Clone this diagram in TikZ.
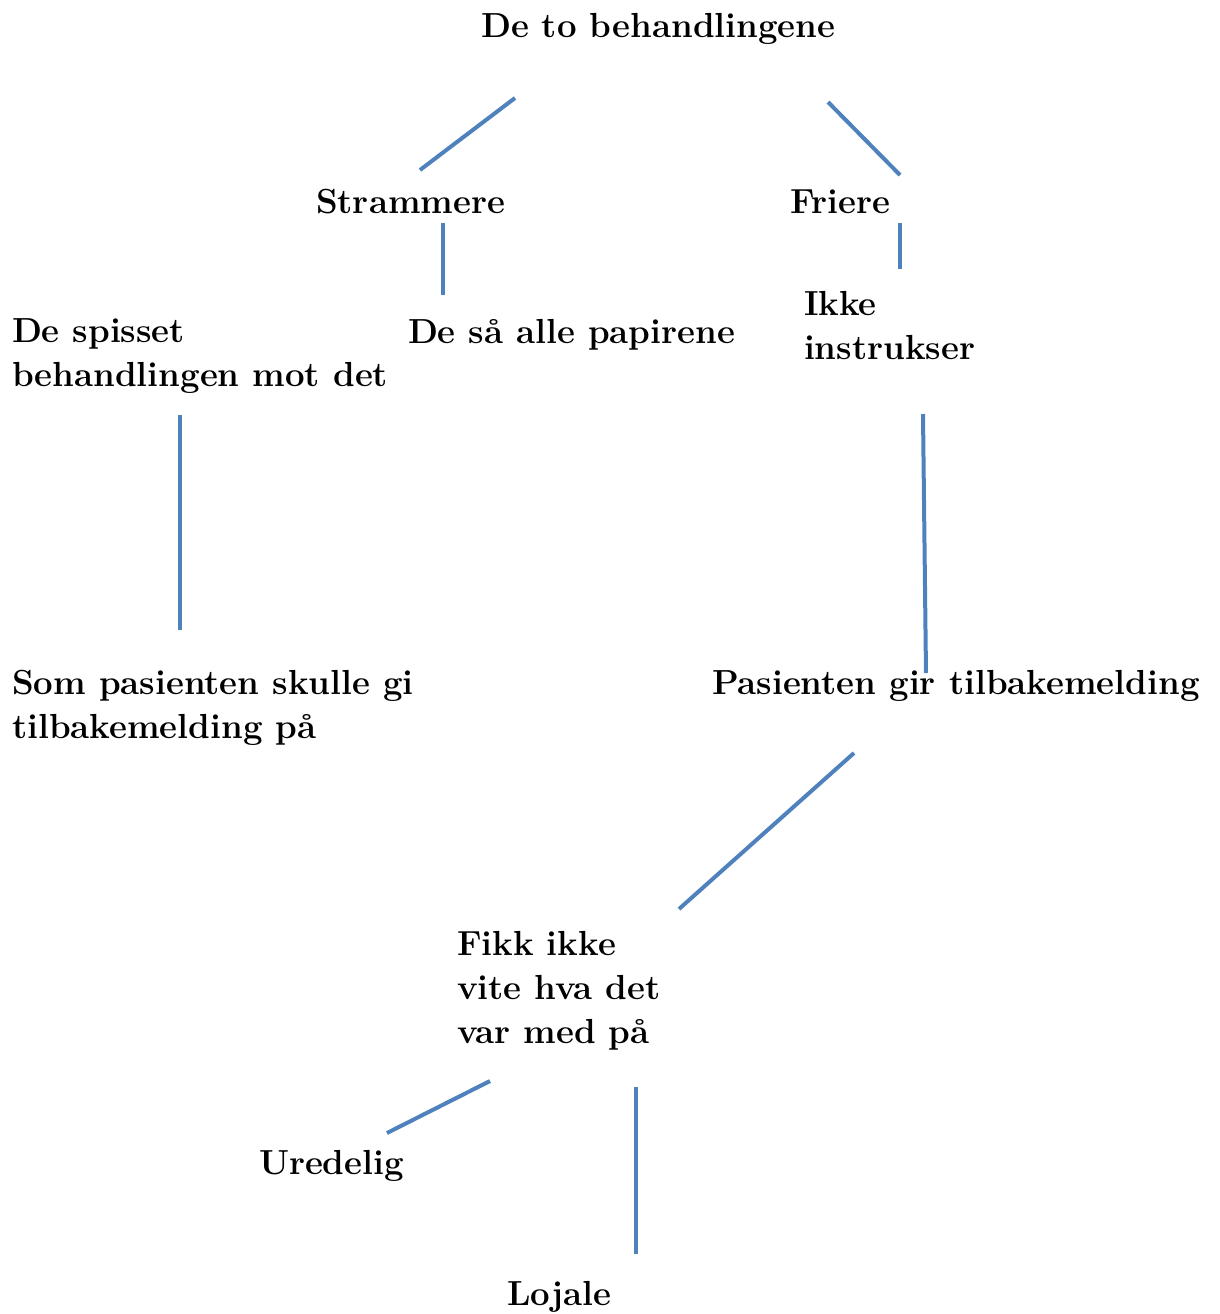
\documentclass[tikz,border=0pt]{standalone}
\definecolor{linkblue}{HTML}{4F81BD}
\tikzset{
  lbl/.style={inner sep=0pt, outer sep=0pt, anchor=base west, font=\fontsize{17.4pt}{22pt}\selectfont\bfseries},
  mlbl/.style={lbl, anchor=north west, align=left},
  link/.style={draw=linkblue, line width=2pt},
}
\begin{document}
\begin{tikzpicture}[x=0.5pt, y=-0.5pt]
\useasboundingbox (0,0) rectangle (1220,1314);
% text nodes
\node[lbl] (root) at (481,37) {De to behandlingene};
\node[lbl] (stram) at (316,213) {Strammere};
\node[lbl] (frie) at (790,213) {Friere};
\node[mlbl] (spiss) at (12,319) {De spisset\\behandlingen mot det};
\node[lbl] (papir) at (408,343) {De så alle papirene};
\node[mlbl] (ikke) at (804,291) {Ikke\\instrukser};
\node[mlbl] (som) at (12,670) {Som pasienten skulle gi\\tilbakemelding på};
\node[lbl] (pas) at (712,694) {Pasienten gir tilbakemelding};
\node[mlbl] (fikk) at (457,931) {Fikk ikke\\vite hva det\\var med på};
\node[lbl] (ured) at (259,1174) {Uredelig};
\node[lbl] (loj) at (507,1305) {Lojale};
% connector end points
\coordinate (a1) at (515,98);  \coordinate (a2) at (420,170);
\coordinate (b1) at (828,102); \coordinate (b2) at (900,175);
\coordinate (c1) at (443,223); \coordinate (c2) at (443,295);
\coordinate (d1) at (900,223); \coordinate (d2) at (900,269);
\coordinate (e1) at (180,415); \coordinate (e2) at (180,630);
\coordinate (f1) at (923,414); \coordinate (f2) at (926,673);
\coordinate (g1) at (854,753); \coordinate (g2) at (679,909);
\coordinate (h1) at (490,1081); \coordinate (h2) at (387,1133);
\coordinate (i1) at (636,1087); \coordinate (i2) at (636,1254);
% connectors
\draw[link] (a1) -- (a2);
\draw[link] (b1) -- (b2);
\draw[link] (c1) -- (c2);
\draw[link] (d1) -- (d2);
\draw[link] (e1) -- (e2);
\draw[link] (f1) -- (f2);
\draw[link] (g1) -- (g2);
\draw[link] (h1) -- (h2);
\draw[link] (i1) -- (i2);
\end{tikzpicture}
\end{document}
